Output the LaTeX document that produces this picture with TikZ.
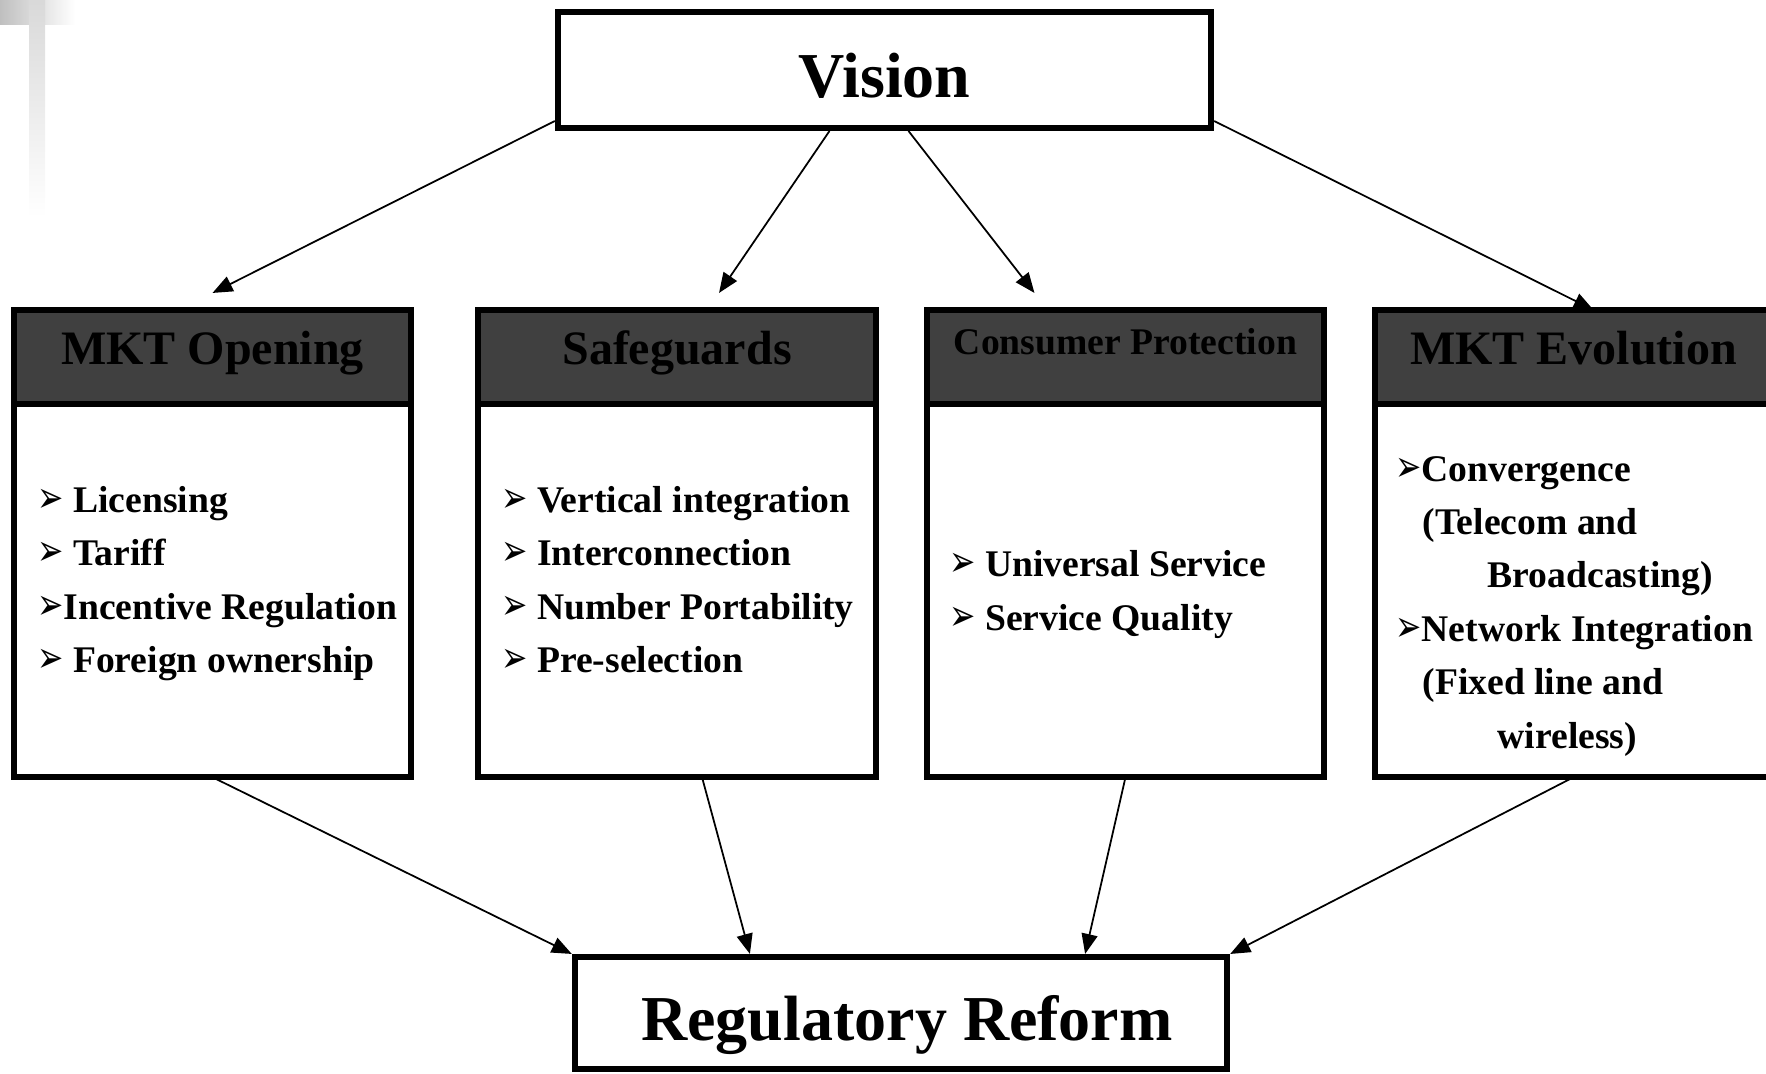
\documentclass[tikz,border=0pt]{standalone}
\usepackage{fontspec}
\setmainfont{Liberation Serif}
\newfontfamily\bulfont{DejaVu Sans}
\usetikzlibrary{positioning,arrows.meta}
\definecolor{headgray}{HTML}{404040}
\newcommand{\bul}{\strut\makebox[0.26cm][l]{\scalebox{0.72}[1]{\bulfont\fontsize{12.4}{12}\selectfont ➢}}}

\tikzset{
  bigbox/.style={draw, line width=0.06cm, inner sep=0pt},
  headbox/.style={draw, fill=headgray, line width=0.06cm, outer sep=0pt, minimum width=3.97cm, minimum height=0.94cm, inner sep=0pt, text height=0.34cm, text depth=0.18cm, font=\fontsize{13.65}{16}\selectfont\bfseries},
  bodybox/.style={draw, line width=0.06cm, outer sep=0pt, minimum width=3.97cm, minimum height=3.73cm, inner sep=0pt},
  itemlist/.style={anchor=west, inner sep=0pt, align=left, font=\fontsize{10.7}{15.2}\selectfont\bfseries},
  link/.style={-{Triangle[length=0.2cm,width=0.16cm]}, line width=0.5pt},
}

\begin{document}
\begin{tikzpicture}[x=0.01cm, y=-0.01cm]
    \useasboundingbox (0,0) rectangle (1766,1074);
    \clip (0,0) rectangle (1766,1074);

    % corner mark
    \shade[left color=gray!50, right color=white] (0,0) rectangle (75,25);
    \shade[top color=gray!30, bottom color=white] (29,0) rectangle (45,217);

    \node[bigbox, minimum width=6.53cm, minimum height=1.16cm, text height=0.56cm, text depth=0pt, font=\fontsize{18.2}{22}\selectfont\bfseries] (vision) at (884.5,70) {Vision};

    % four columns
    \node[headbox] (openH) at (212.5,357) {MKT Opening};
    \node[bodybox, below=0pt of openH] (openB) {};
    \node[headbox] (safeH) at (677,357) {Safeguards};
    \node[bodybox, below=0pt of safeH] (safeB) {};
    \node[headbox, text height=0.27cm, text depth=0.31cm, font=\fontsize{10.7}{13}\selectfont\bfseries] (consH) at (1125.5,357) {Consumer Protection};
    \node[bodybox, below=0pt of consH] (consB) {};
    \node[headbox] (evolH) at (1573.5,357) {MKT Evolution};
    \node[bodybox, below=0pt of evolH] (evolB) {};

    \node[itemlist] (openL) at (37,582) {\bul\ Licensing\\ \bul\ Tariff\\ \bul Incentive Regulation\\ \bul\ Foreign ownership};
    \node[itemlist] (safeL) at (501,582) {\bul\ Vertical integration\\ \bul\ Interconnection\\ \bul\ Number Portability\\ \bul\ Pre-selection};
    \node[itemlist] (consL) at (949,593) {\bul\ Universal Service\\ \bul\ Service Quality};
    \node[itemlist] (evolL) at (1395,604) {\bul Convergence\\ \hspace*{0.27cm}(Telecom and\\ \hspace*{0.92cm}Broadcasting)\\ \bul Network Integration\\ \hspace*{0.27cm}(Fixed line and\\ \hspace*{1.02cm}wireless)\strut};

    \node[bigbox, minimum width=6.52cm, minimum height=1.12cm, text height=0.54cm, text depth=0pt, font=\fontsize{18.2}{22}\selectfont\bfseries] (reform) at (901,1013) {\hspace*{0.12cm}Regulatory Reform};

    % vision to columns
    \draw[link] ([yshift=0.1cm]vision.south west) -- ([yshift=0.17cm]openH.north);
    \draw[link] ([xshift=-0.55cm]vision.south) -- ([xshift=0.42cm,yshift=0.17cm]safeH.north);
    \draw[link] ([xshift=0.24cm]vision.south) -- ([xshift=-0.91cm,yshift=0.17cm]consH.north);
    \draw[link] ([yshift=0.1cm]vision.south east) -- ([xshift=0.2cm]evolH.north);

    % columns to reform
    \draw[link] (openB.south) -- (reform.north west);
    \draw[link] ([xshift=0.25cm]safeB.south) -- ([xshift=-1.51cm]reform.north);
    \draw[link] (consB.south) -- ([xshift=1.84cm]reform.north);
    \draw[link] (evolB.south) -- (reform.north east);
\end{tikzpicture}
\end{document}
